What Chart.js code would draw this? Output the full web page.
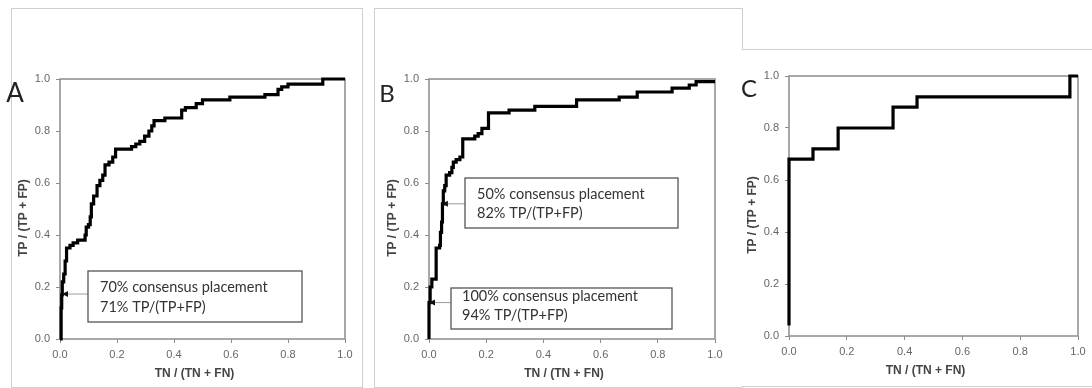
<!DOCTYPE html>
<html>
<head>
<meta charset="utf-8">
<script src="https://cdn.jsdelivr.net/npm/chart.js@4.4.0/dist/chart.umd.min.js"></script>
<style>
body { margin: 0; background: #fff; }
#wrap { position: relative; width: 1092px; height: 388px; overflow: hidden; background: #fff; }
.frame { position: absolute; border: 1px solid #cfcfcf; box-sizing: border-box; }
canvas { position: absolute; top: 0; }
</style>
</head>
<body>
<div id="wrap">
  <div class="frame" style="left:11px;top:8px;width:352px;height:380px"></div>
  <div class="frame" style="left:374px;top:8px;width:369px;height:380px"></div>
  <div class="frame" style="left:742px;top:49px;width:360px;height:338px;background:#fff;border-left:none;border-right:none"></div>
  <canvas id="chartA" width="364" height="388" style="left:0px"></canvas>
  <canvas id="chartB" width="378" height="388" style="left:364px"></canvas>
  <canvas id="chartC" width="350" height="388" style="left:742px"></canvas>
</div>
<script>
// axis ticks (both axes)
const tickValues = [0, 0.2, 0.4, 0.6, 0.8, 1.0];
const xTitle = 'TN / (TN + FN)';
const yTitle = 'TP / (TP + FP)';

// panel A curve (step points)
const aX = [0, 0.004, 0.006, 0.008, 0.013, 0.018, 0.023, 0.035, 0.046, 0.062, 0.088, 0.092, 0.100, 0.106, 0.110, 0.118, 0.130, 0.140, 0.150, 0.158, 0.172, 0.185, 0.195, 0.251, 0.266, 0.280, 0.297, 0.312, 0.322, 0.330, 0.368, 0.427, 0.440, 0.478, 0.500, 0.596, 0.719, 0.765, 0.778, 0.800, 0.922, 1.0];
const aY = [0, 0.12, 0.17, 0.22, 0.25, 0.30, 0.35, 0.36, 0.37, 0.38, 0.40, 0.43, 0.44, 0.47, 0.52, 0.55, 0.59, 0.61, 0.63, 0.67, 0.68, 0.70, 0.73, 0.74, 0.75, 0.76, 0.78, 0.80, 0.82, 0.84, 0.85, 0.88, 0.89, 0.905, 0.92, 0.93, 0.94, 0.96, 0.97, 0.98, 1.0, 1.0];

// panel B curve
const bX = [0, 0, 0.004, 0.010, 0.025, 0.037, 0.040, 0.044, 0.047, 0.050, 0.055, 0.060, 0.072, 0.080, 0.085, 0.095, 0.108, 0.118, 0.160, 0.172, 0.185, 0.208, 0.280, 0.370, 0.516, 0.665, 0.728, 0.850, 0.910, 0.934, 1.0];
const bY = [0, 0.14, 0.20, 0.23, 0.35, 0.36, 0.41, 0.45, 0.52, 0.57, 0.59, 0.63, 0.64, 0.66, 0.68, 0.69, 0.70, 0.77, 0.78, 0.79, 0.81, 0.87, 0.88, 0.895, 0.92, 0.93, 0.95, 0.965, 0.977, 0.99, 0.99];

// panel C curve
const cX = [0, 0, 0.083, 0.17, 0.36, 0.443, 0.972, 1.0];
const cY = [0.04, 0.68, 0.72, 0.80, 0.88, 0.92, 1.0, 1.0];

// annotation texts and the curve points they point at
const aNotes = [
  { lines: ['70% consensus placement', '71% TP/(TP+FP)'], px: 0.007, py: 0.173, box: [88, 271, 214, 51], tx: 100, ty: [287, 307] }
];
const bNotes = [
  { lines: ['50% consensus placement', '82% TP/(TP+FP)'], px: 0.045, py: 0.52, box: [101, 178, 213, 50], tx: 113, ty: [194, 213] },
  { lines: ['100% consensus placement', '94% TP/(TP+FP)'], px: 0.0, py: 0.14, box: [87, 288, 221, 41], tx: 98, ty: [296, 315] }
];

function toPts(xs, ys) {
  return xs.map((x, i) => ({ x: x, y: ys[i] }));
}

// frame, letter, axis titles and the note boxes
const decor = {
  id: 'decor',
  beforeDatasetsDraw(chart, args, o) {
    const a = chart.chartArea, ctx = chart.ctx;
    ctx.save();
    ctx.strokeStyle = '#8c8c8c';
    ctx.lineWidth = 1.5;
    ctx.strokeRect(a.left, a.top, a.right - a.left, a.bottom - a.top);
    ctx.restore();
  },
  afterDraw(chart, args, o) {
    const a = chart.chartArea, ctx = chart.ctx;
    const xs = chart.scales.x, ys = chart.scales.y;
    ctx.save();
    // panel letter
    ctx.fillStyle = '#222';
    ctx.font = o.letterSize + 'px Lato';
    ctx.textAlign = 'center';
    ctx.textBaseline = 'middle';
    ctx.fillText(o.letter, o.lx, o.ly);
    // axis titles
    ctx.fillStyle = '#444';
    ctx.font = 'bold 12px "Liberation Sans"';
    ctx.fillText(xTitle, (a.left + a.right) / 2 - 8, a.bottom + 35);
    ctx.save();
    ctx.translate(a.left - 36, (a.top + a.bottom) / 2 + 9);
    ctx.rotate(-Math.PI / 2);
    ctx.fillText(yTitle, 0, 0);
    ctx.restore();
    // notes
    (o.notes || []).forEach(n => {
      const px = xs.getPixelForValue(n.px), py = ys.getPixelForValue(n.py);
      ctx.strokeStyle = '#9a9a9a';
      ctx.lineWidth = 1;
      ctx.beginPath();
      ctx.moveTo(n.box[0], py);
      ctx.lineTo(px + 4, py);
      ctx.stroke();
      ctx.fillStyle = '#111';
      ctx.beginPath();
      ctx.moveTo(px, py);
      ctx.lineTo(px + 6, py - 3);
      ctx.lineTo(px + 6, py + 3);
      ctx.closePath();
      ctx.fill();
      ctx.strokeStyle = '#555';
      ctx.lineWidth = 1.3;
      ctx.strokeRect(n.box[0], n.box[1], n.box[2], n.box[3]);
      ctx.fillStyle = '#333';
      ctx.font = '14.5px Lato';
      ctx.textAlign = 'left';
      n.lines.forEach((t, i) => ctx.fillText(t, n.tx, n.ty[i]));
    });
    ctx.restore();
  }
};

function axis(fixSize, horizontal) {
  return {
    type: 'linear',
    min: 0,
    max: 1,
    afterBuildTicks: s => { s.ticks = tickValues.map(v => ({ value: v })); },
    afterFit: s => {
      if (horizontal) {
        s.height = fixSize;
        s.paddingLeft = 0;
        s.paddingRight = 0;
      } else {
        s.width = fixSize;
        s.paddingTop = 0;
        s.paddingBottom = 0;
      }
    },
    grid: { drawOnChartArea: false, drawTicks: true, tickLength: 4, color: '#8c8c8c', lineWidth: 1 },
    border: { display: false },
    ticks: {
      padding: horizontal ? 5 : 6,
      color: '#666',
      font: { family: 'Liberation Sans', size: 11 },
      maxRotation: 0,
      callback: v => Number(v).toFixed(1)
    },
    title: { display: false }
  };
}

function makePanel(id, pts, g, notes) {
  new Chart(document.getElementById(id), {
    type: 'scatter',
    data: {
      datasets: [{
        data: pts,
        showLine: true,
        stepped: 'before',
        borderColor: '#000',
        borderWidth: 3.2,
        borderJoinStyle: 'miter',
        pointRadius: 0,
        clip: false
      }]
    },
    options: {
      responsive: false,
      animation: false,
      devicePixelRatio: 1,
      layout: { padding: { left: 0, top: g.T, right: g.W - g.R, bottom: 0 } },
      plugins: {
        legend: { display: false },
        tooltip: { enabled: false },
        decor: { letter: g.letter, letterSize: g.size, lx: g.lx, ly: g.ly, notes: notes }
      },
      scales: {
        x: axis(g.H - g.B, true),
        y: axis(g.L, false)
      }
    },
    plugins: [decor]
  });
}

makePanel('chartA', toPts(aX, aY), { L: 60, R: 345, T: 79, B: 339, W: 364, H: 388, letter: 'A', size: 26, lx: 15, ly: 94 }, aNotes);
makePanel('chartB', toPts(bX, bY), { L: 65, R: 351, T: 79, B: 339, W: 378, H: 388, letter: 'B', size: 24, lx: 23, ly: 94 }, bNotes);
makePanel('chartC', toPts(cX, cY), { L: 47, R: 336, T: 76, B: 336, W: 350, H: 388, letter: 'C', size: 24, lx: 7, ly: 89 }, []);
</script>
</body>
</html>
